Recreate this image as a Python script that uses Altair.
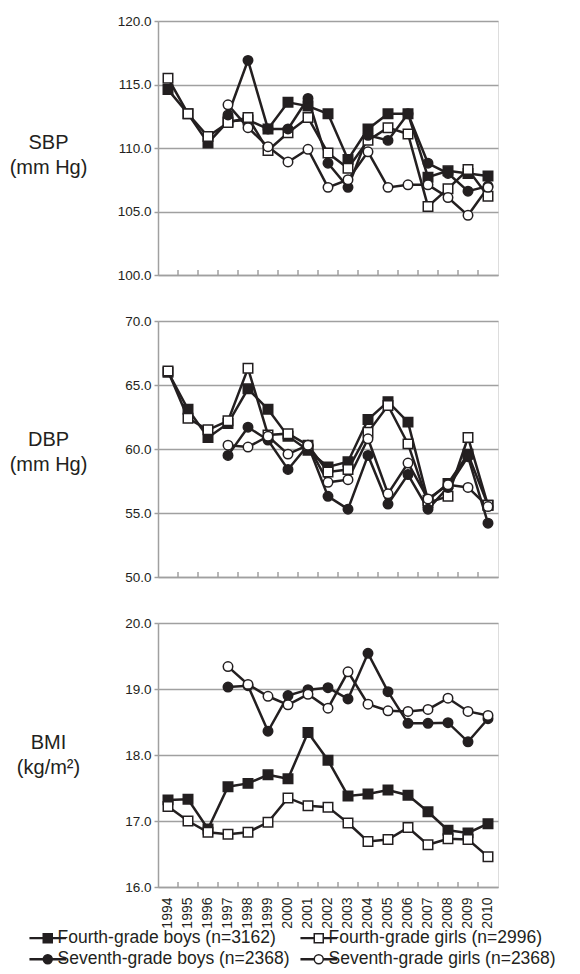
import altair as alt
import pandas as pd

FONT = "Liberation Sans"
INK = "#231f20"
GRID = "#a0a0a0"

years = list(range(1994, 2011))
years7 = list(range(1997, 2011))
series = ["Fourth-grade boys (n=3162)", "Fourth-grade girls (n=2996)",
          "Seventh-grade boys (n=2368)", "Seventh-grade girls (n=2368)"]
shapes = ["square", "square", "circle", "circle"]
fills = [INK, "white", INK, "white"]
sizes = [90, 90, 85, 85]

# SBP (mm Hg)
sbp_boys4 = [114.6, 112.7, 110.4, 112.1, 112.2, 111.5, 113.6, 113.3, 112.7, 109.1, 111.5, 112.7, 112.7, 107.7, 108.2, 108.0, 107.8]
sbp_girls4 = [115.5, 112.7, 110.9, 112.0, 112.4, 109.8, 111.2, 112.4, 109.6, 108.4, 110.6, 111.6, 111.1, 105.4, 106.8, 108.3, 106.2]
sbp_boys7 = [112.6, 116.9, 111.5, 111.5, 113.9, 108.8, 106.9, 111.0, 110.6, 112.7, 108.8, 108.0, 106.6, 107.0]
sbp_girls7 = [113.4, 111.6, 110.1, 108.9, 109.9, 106.9, 107.5, 109.7, 106.9, 107.1, 107.1, 106.1, 104.7, 106.9]

# DBP (mm Hg)
dbp_boys4 = [66.0, 63.1, 60.9, 62.0, 64.7, 63.1, 61.0, 59.9, 58.6, 59.0, 62.3, 63.7, 62.1, 56.0, 57.3, 59.6, 55.6]
dbp_girls4 = [66.1, 62.4, 61.5, 62.2, 66.3, 61.1, 61.2, 60.3, 58.2, 58.4, 61.3, 63.4, 60.4, 55.8, 56.3, 60.9, 55.6]
dbp_boys7 = [59.5, 61.7, 60.7, 58.4, 60.3, 56.3, 55.3, 59.5, 55.7, 58.0, 55.3, 57.0, 59.4, 54.2]
dbp_girls7 = [60.3, 60.15, 61.0, 59.6, 60.3, 57.4, 57.6, 60.8, 56.5, 58.9, 56.1, 57.2, 57.0, 55.5]

# BMI (kg/m2)
bmi_boys4 = [17.32, 17.33, 16.88, 17.52, 17.57, 17.70, 17.64, 18.34, 17.92, 17.38, 17.41, 17.47, 17.39, 17.14, 16.86, 16.82, 16.96]
bmi_girls4 = [17.22, 17.00, 16.83, 16.80, 16.83, 16.98, 17.35, 17.23, 17.21, 16.97, 16.69, 16.72, 16.90, 16.64, 16.73, 16.72, 16.46]
bmi_boys7 = [19.03, 19.05, 18.36, 18.90, 18.99, 19.02, 18.85, 19.54, 18.96, 18.48, 18.48, 18.49, 18.20, 18.55]
bmi_girls7 = [19.34, 19.07, 18.89, 18.76, 18.92, 18.71, 19.26, 18.77, 18.67, 18.66, 18.69, 18.86, 18.66, 18.60]

sbp_ticks = [100, 105, 110, 115, 120]
dbp_ticks = [50, 55, 60, 65, 70]
bmi_ticks = [16, 17, 18, 19, 20]

# legend symbols: line stub + marker
sq_path = "M-3.9,-0.11H-1V0.11H-3.9Z M1,-0.11H3.9V0.11H1Z M-1,-1H1V1H-1Z"
ci_path = "M-3.9,-0.11H-1V0.11H-3.9Z M1,-0.11H3.9V0.11H1Z M-1,0A1,1,0,1,0,1,0A1,1,0,1,0,-1,0Z"
legend_shapes = [sq_path, sq_path, ci_path, ci_path]

PLOT_W = 340


def make_df(b4, g4, b7, g7):
    rows = []
    for name, yrs, vals in [(series[0], years, b4), (series[1], years, g4),
                            (series[2], years7, b7), (series[3], years7, g7)]:
        for y, v in zip(yrs, vals):
            rows.append({"series": name, "year": str(y), "value": v})
    return pd.DataFrame(rows)


xscale = alt.Scale(type="band", domain=[str(y) for y in years], paddingInner=0, paddingOuter=0)


def panel(df, title, ticks, height, title_x, title_y, bottom=False, legend=False):
    if bottom:
        xaxis = alt.Axis(title=None, labelAngle=270, labelFontSize=14, labelFont=FONT,
                         labelColor=INK, labelPadding=10, ticks=False, tickSize=0,
                         domainColor=GRID, domainWidth=1.5, grid=False, labelBaseline="middle",
                         labelAlign="right")
    else:
        xaxis = alt.Axis(title=None, labels=False, ticks=False, tickSize=0,
                         domainColor=GRID, domainWidth=1.5, grid=False)
    yaxis = alt.Axis(values=ticks, format=".1f", title=title, titleAngle=0,
                     titleX=title_x, titleY=title_y, titleAlign="center",
                     titleBaseline="alphabetic", titleFontSize=20, titleFont=FONT,
                     titleFontWeight="normal", titleColor=INK, titleLineHeight=25,
                     labelFontSize=13.5, labelFont=FONT, labelColor=INK, labelPadding=3,
                     tickSize=4, tickColor=GRID, tickWidth=1.5,
                     domainColor=GRID, domainWidth=1.5,
                     grid=True, gridColor=GRID, gridWidth=1.5)
    x = alt.X("year:O", scale=xscale, axis=xaxis, bandPosition=0.5)
    y = alt.Y("value:Q", scale=alt.Scale(domain=[ticks[0], ticks[-1]], nice=False, zero=False), axis=yaxis)

    ticks_df = pd.DataFrame({"year": [str(v) for v in years[1:]]})
    tick_layer = alt.Chart(ticks_df).mark_rule(color=GRID, strokeWidth=1.5).encode(
        x=alt.X("year:O", scale=xscale, bandPosition=0),
        y=alt.value(height), y2=alt.value(height - 5))

    lines = alt.Chart(df).mark_line(color=INK, strokeWidth=2.5).encode(
        x=x, y=y, detail="series:N")
    points = alt.Chart(df).mark_point(opacity=1, stroke=INK, strokeWidth=1.5).encode(
        x=x, y=y,
        shape=alt.Shape("series:N", scale=alt.Scale(domain=series, range=shapes), legend=None),
        fill=alt.Fill("series:N", scale=alt.Scale(domain=series, range=fills), legend=None),
        size=alt.Size("series:N", scale=alt.Scale(domain=series, range=sizes), legend=None),
    )
    layers = [tick_layer, lines, points]
    if legend:
        leg = dict(title=None, orient="none", legendX=-119, legendY=306, columns=2,
                   direction="horizontal",
                   columnPadding=8, rowPadding=2.5, symbolSize=81, symbolOffset=0,
                   labelOffset=1, labelFontSize=17.5, labelFont=FONT, labelColor=INK,
                   labelLimit=0, symbolStrokeWidth=1.5, symbolStrokeColor=INK,
                   symbolOpacity=1, padding=0)
        leg_df = pd.DataFrame({"series": series})
        leg_layer = alt.Chart(leg_df).mark_point(opacity=1, strokeWidth=1.5).encode(
            shape=alt.Shape("series:N", scale=alt.Scale(domain=series, range=legend_shapes),
                            legend=alt.Legend(**leg)),
            fill=alt.Fill("series:N", scale=alt.Scale(domain=series, range=fills),
                          legend=alt.Legend(**leg)),
            stroke=alt.Stroke("series:N", scale=alt.Scale(domain=series, range=[INK] * 4),
                              legend=alt.Legend(**leg)),
        ).transform_filter("false")
        layers.append(leg_layer)
        return alt.layer(*layers).resolve_scale(
            shape="independent", fill="independent", size="independent", stroke="independent"
        ).properties(width=PLOT_W, height=height)
    return alt.layer(*layers).properties(width=PLOT_W, height=height)


p1 = panel(make_df(sbp_boys4, sbp_girls4, sbp_boys7, sbp_girls7),
           ["SBP", "(mm Hg)"], sbp_ticks, 254, -110, 127)
p2 = panel(make_df(dbp_boys4, dbp_girls4, dbp_boys7, dbp_girls7),
           ["DBP", "(mm Hg)"], dbp_ticks, 256, -110, 124)
p3 = panel(make_df(bmi_boys4, bmi_girls4, bmi_boys7, bmi_girls7),
           ["BMI", "(kg/m²)"], bmi_ticks, 264, -110, 125, bottom=True, legend=True)

chart = alt.vconcat(p1, p2, p3, spacing=46, bounds="flush").properties(
    padding={"left": 0, "top": 5, "right": 0, "bottom": 0}
).configure_view(stroke="transparent").configure(font=FONT)

chart.save("out.html", embed_options={"renderer": "svg", "actions": False})
